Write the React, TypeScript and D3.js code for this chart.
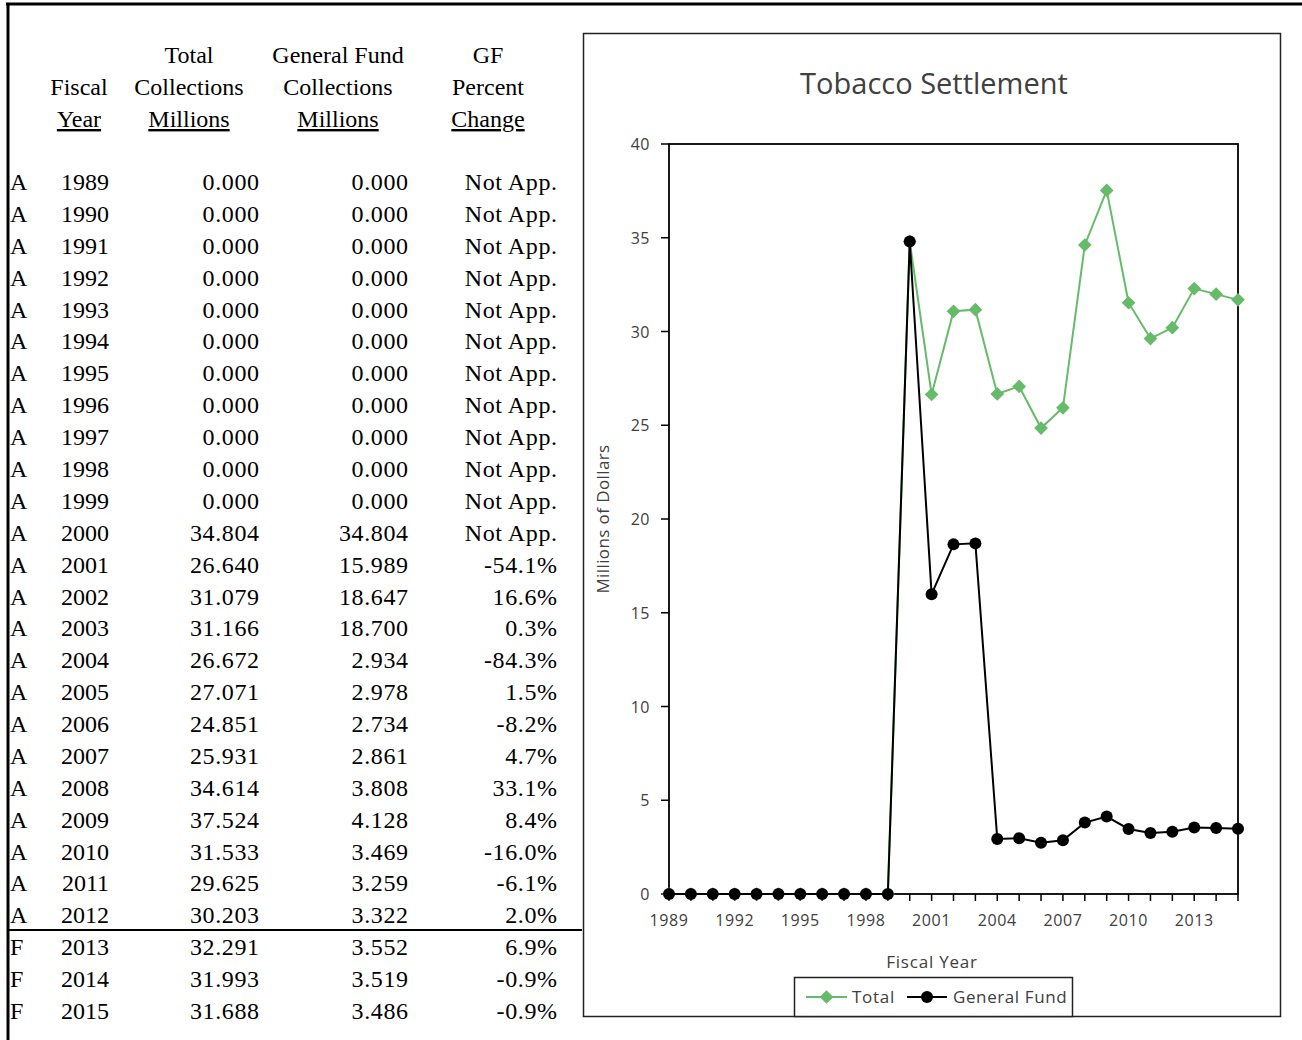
import React from "react";
import * as d3 from "d3";

const years: number[] = [1989,1990,1991,1992,1993,1994,1995,1996,1997,1998,1999,2000,2001,2002,2003,2004,2005,2006,2007,2008,2009,2010,2011,2012,2013,2014,2015];
const flags: string[] = ["A","A","A","A","A","A","A","A","A","A","A","A","A","A","A","A","A","A","A","A","A","A","A","A","F","F","F"];
const totalVals: number[] = [0,0,0,0,0,0,0,0,0,0,0,34.804,26.640,31.079,31.166,26.672,27.071,24.851,25.931,34.614,37.524,31.533,29.625,30.203,32.291,31.993,31.688];
const gfVals: number[] = [0,0,0,0,0,0,0,0,0,0,0,34.804,15.989,18.647,18.700,2.934,2.978,2.734,2.861,3.808,4.128,3.469,3.259,3.322,3.552,3.519,3.486];
const pctLabels: string[] = ["Not App.","Not App.","Not App.","Not App.","Not App.","Not App.","Not App.","Not App.","Not App.","Not App.","Not App.","Not App.","-54.1%","16.6%","0.3%","-84.3%","1.5%","-8.2%","4.7%","33.1%","8.4%","-16.0%","-6.1%","2.0%","6.9%","-0.9%","-0.9%"];
const yTicks: number[] = [0,5,10,15,20,25,30,35,40];
const xTickLabels: number[] = [1989,1992,1995,1998,2001,2004,2007,2010,2013];

const SERIF = "'Liberation Serif', 'Times New Roman', serif";
const SANS = "'Open Sans', 'Noto Sans', sans-serif";
const GREEN = "#66bb6a";
const GREY = "#404040";

export default function App() {
  const x = d3.scaleLinear().domain([1989, 2015]).range([669, 1238]);
  const y = d3.scaleLinear().domain([0, 40]).range([894, 144]);
  const rowY = d3.scaleLinear().domain([0, 26]).range([190, 1019]);

  const line = d3.line<number>().x((_, i) => x(years[i])).y((d) => y(d));
  const diamond = d3.symbol().type(d3.symbolDiamond2).size(120)();
  const fmt = d3.format(".3f");

  return (
    <svg width={1302} height={1040} style={{ position: "absolute", left: 0, top: 0, background: "#fff" }}>
      {/* frame */}
      <line x1={6} y1={4} x2={1302} y2={4} stroke="#000" strokeWidth={3} />
      <line x1={8} y1={3} x2={8} y2={1040} stroke="#000" strokeWidth={3} />

      {/* table header */}
      <g fontFamily={SERIF} fontSize={24} fill="#000" textAnchor="middle">
        <text x={189} y={63}>Total</text>
        <text x={338} y={63}>General Fund</text>
        <text x={488} y={63}>GF</text>
        <text x={79} y={95}>Fiscal</text>
        <text x={189} y={95}>Collections</text>
        <text x={338} y={95}>Collections</text>
        <text x={488} y={95}>Percent</text>
        <text x={79} y={127} textDecoration="underline">Year</text>
        <text x={189} y={127} textDecoration="underline">Millions</text>
        <text x={338} y={127} textDecoration="underline">Millions</text>
        <text x={488} y={127} textDecoration="underline">Change</text>
      </g>

      {/* table rows */}
      <g fontFamily={SERIF} fontSize={24} fill="#000">
        {years.map((yr, i) => (
          <g key={yr}>
            <text x={10} y={rowY(i)}>{flags[i]}</text>
            <text x={109} y={rowY(i)} textAnchor="end">{yr}</text>
            <text x={259.6} y={rowY(i)} textAnchor="end" letterSpacing={0.6}>{fmt(totalVals[i])}</text>
            <text x={408.6} y={rowY(i)} textAnchor="end" letterSpacing={0.6}>{fmt(gfVals[i])}</text>
            <text x={557.6} y={rowY(i)} textAnchor="end" letterSpacing={0.6}>{pctLabels[i]}</text>
          </g>
        ))}
      </g>
      <line x1={9} y1={930} x2={582} y2={930} stroke="#000" strokeWidth={2} />

      {/* chart frame */}
      <rect x={583.5} y={33.5} width={697} height={983} fill="#fff" stroke="#222" strokeWidth={1.5} />
      <text x={934} y={94} textAnchor="middle" fontFamily={SANS} fontSize={29} fill={GREY}>Tobacco Settlement</text>

      {/* plot area border */}
      <rect x={669} y={144} width={569} height={750} fill="none" stroke="#000" strokeWidth={1.8} />

      {/* y axis */}
      <g fontFamily={SANS} fontSize={16} fill={GREY} letterSpacing={0.5}>
        {yTicks.map((t) => (
          <g key={t}>
            <line x1={661} x2={669} y1={y(t)} y2={y(t)} stroke="#000" strokeWidth={1.5} />
            <text x={650} y={y(t) + 6} textAnchor="end">{t}</text>
          </g>
        ))}
      </g>
      <text transform="translate(609,519) rotate(-90)" textAnchor="middle" fontFamily={SANS} fontSize={17} letterSpacing={0.4} fill={GREY}>Millions of Dollars</text>

      {/* x axis */}
      <g fontFamily={SANS} fontSize={16} fill={GREY} letterSpacing={0.6}>
        {years.map((yr) => (
          <line key={yr} x1={x(yr)} x2={x(yr)} y1={894} y2={901} stroke="#000" strokeWidth={1.5} />
        ))}
        {xTickLabels.map((yr) => (
          <text key={yr} x={x(yr)} y={926} textAnchor="middle">{yr}</text>
        ))}
      </g>
      <text x={932} y={968} textAnchor="middle" fontFamily={SANS} fontSize={17} letterSpacing={0.8} fill={GREY}>Fiscal Year</text>

      {/* Total series */}
      <path d={line(totalVals) || ""} fill="none" stroke={GREEN} strokeWidth={2} />
      {totalVals.map((v, i) => (
        <path key={i} d={diamond || ""} transform={`translate(${x(years[i])},${y(v)})`} fill={GREEN} />
      ))}

      {/* General Fund series */}
      <path d={line(gfVals) || ""} fill="none" stroke="#000" strokeWidth={2} />
      {gfVals.map((v, i) => (
        <circle key={i} cx={x(years[i])} cy={y(v)} r={6} fill="#000" />
      ))}

      {/* legend */}
      <rect x={794.5} y={977.5} width={278} height={39} fill="#fff" stroke="#222" strokeWidth={1.5} />
      <line x1={806} x2={847} y1={997} y2={997} stroke={GREEN} strokeWidth={2} />
      <path d={diamond || ""} transform="translate(826.5,997)" fill={GREEN} />
      <text x={852} y={1003} fontFamily={SANS} fontSize={17} letterSpacing={0.7} fill={GREY}>Total</text>
      <line x1={907} x2={947} y1={997} y2={997} stroke="#000" strokeWidth={2} />
      <circle cx={927} cy={997} r={6} fill="#000" />
      <text x={953} y={1003} fontFamily={SANS} fontSize={17} letterSpacing={0.6} fill={GREY}>General Fund</text>
    </svg>
  );
}
